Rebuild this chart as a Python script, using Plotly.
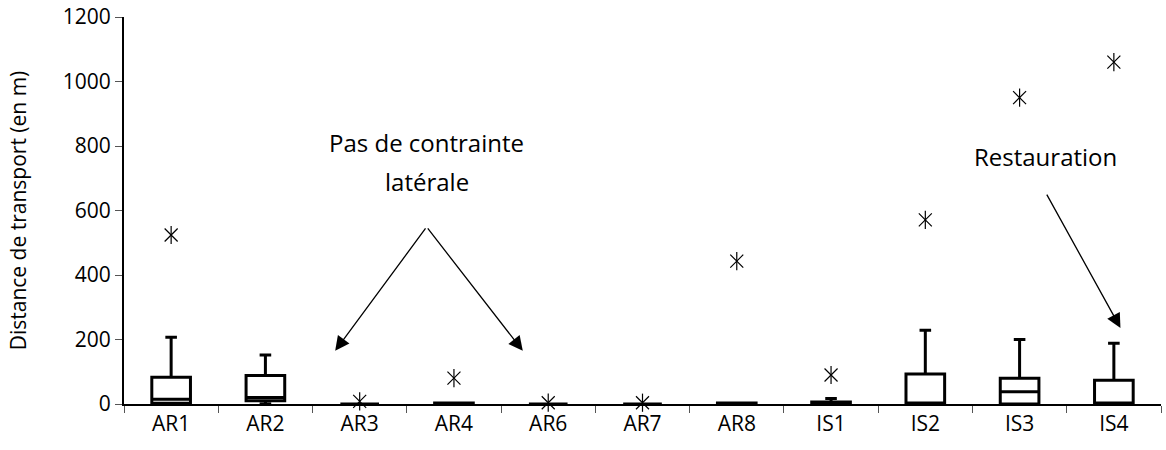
import plotly.graph_objects as go

categories = ["AR1", "AR2", "AR3", "AR4", "AR6", "AR7", "AR8", "IS1", "IS2", "IS3", "IS4"]
q1_vals = [2, 10, 0, 0, 0, 0, 0, 0, 0, 0, 0]
median_vals = [15, 20, 0, 1, 0, 0, 1, 2, 0, 38, 0]
q3_vals = [83, 88, 0, 3, 0, 0, 3, 6, 93, 80, 74]
lower_vals = [0, 0, 0, 0, 0, 0, 0, 0, 0, 0, 0]
upper_vals = [207, 152, 0, 3, 0, 0, 3, 17, 229, 200, 188]
max_vals = [524, None, 8, 80, 4, 4, 443, 90, 571, 950, 1060]

FONT = "Open Sans"

fig = go.Figure()
fig.add_trace(go.Box(
    x=categories, q1=q1_vals, median=median_vals, q3=q3_vals,
    lowerfence=lower_vals, upperfence=upper_vals,
    boxpoints=False, width=0.41, whiskerwidth=0.3,
    line=dict(color="black", width=3), fillcolor="white",
    showlegend=False, hoverinfo="skip",
))
for sym in ["x-thin-open", "line-ns-open"]:
    fig.add_trace(go.Scatter(
        x=categories, y=max_vals, mode="markers",
        marker=dict(symbol=sym, size=13, color="black", line=dict(color="black", width=1.2)),
        showlegend=False, hoverinfo="skip", cliponaxis=False,
    ))

arrow_style = dict(showarrow=True, arrowhead=2, arrowsize=2.2, arrowwidth=1.3,
                   arrowcolor="black", axref="x", ayref="y", text="")
fig.add_annotation(x=1.74, y=165, ax=2.71, ay=549, **arrow_style)
fig.add_annotation(x=3.73, y=165, ax=2.71, ay=549, **arrow_style)
fig.add_annotation(x=10.07, y=236, ax=9.28, ay=654, **arrow_style)
fig.add_annotation(x=2.71, y=812, text="Pas de contrainte", showarrow=False,
                   font=dict(family=FONT, size=24, color="black"))
fig.add_annotation(x=2.71, y=691, text="latérale", showarrow=False,
                   font=dict(family=FONT, size=24, color="black"))
fig.add_annotation(x=9.28, y=766, text="Restauration", showarrow=False,
                   font=dict(family=FONT, size=24, color="black"))

fig.update_layout(
    width=1166, height=450,
    margin=dict(l=124, r=5, t=17, b=46),
    paper_bgcolor="white", plot_bgcolor="white",
    font=dict(family=FONT, size=20, color="black"),
    xaxis=dict(type="category", tickson="boundaries", ticks="outside", ticklen=7,
               tickcolor="#555", showline=True, linecolor="black", linewidth=2,
               showgrid=False, zeroline=False, tickfont=dict(size=21),
               range=[-0.5, 10.5], automargin=False),
    yaxis=dict(range=[0, 1200], dtick=200, ticks="outside", ticklen=7, tickcolor="#555",
               showline=True, linecolor="black", linewidth=2, showgrid=False,
               zeroline=False, tickfont=dict(size=21), automargin=False,
               title=dict(text="Distance de transport (en m)", font=dict(size=21), standoff=30)),
)

fig.write_html("out.html", config={"displayModeBar": False},
               post_script="document.body.style.margin='0';")
